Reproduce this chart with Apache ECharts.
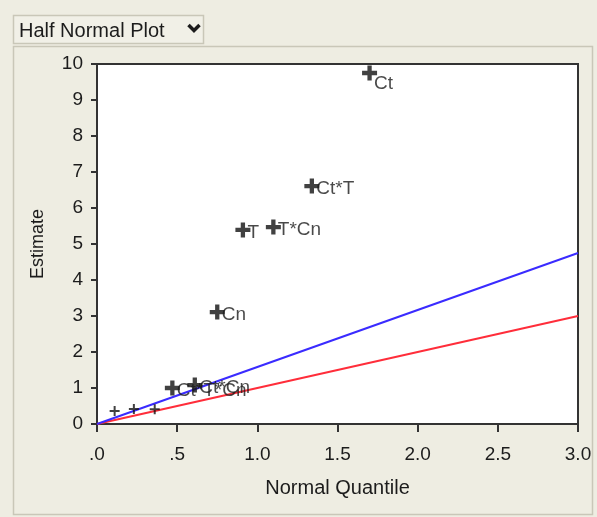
<!DOCTYPE html>
<html>
<head>
<meta charset="utf-8">
<script src="https://cdn.jsdelivr.net/npm/echarts@6/dist/echarts.min.js"></script>
<style>
  html, body { margin: 0; padding: 0; background: #eeede2; }
  #chart { width: 597px; height: 517px; }
</style>
</head>
<body>
<div id="chart"></div>
<script>
// Labelled effects: name, normal quantile, estimate
const effectNames     = ['Ct', 'Ct*T', 'T*Cn', 'T', 'Cn', 'Ct*T*Cn', 'Ct*Cn'];
const effectQuantiles = [1.70, 1.34, 1.10, 0.91, 0.75, 0.47, 0.61];
const effectEstimates = [9.75, 6.61, 5.47, 5.39, 3.11, 1.00, 1.08];

// Small unlabelled effects
const minorQuantiles = [0.11, 0.23, 0.36];
const minorEstimates = [0.36, 0.42, 0.41];

// Reference lines through the origin: end value at quantile 3.0
const lineEndQuantile = 3.0;
const blueLineEnd = 4.75;
const redLineEnd  = 3.0;

// Tick labels
const xTickLabels = ['.0', '.5', '1.0', '1.5', '2.0', '2.5', '3.0'];
const yTickLabels = ['0', '1', '2', '3', '4', '5', '6', '7', '8', '9', '10'];

const FONT = '"Liberation Sans", Arial, sans-serif';
const INK = '#1c1c1c';
const PLUS = 'path://M-2,-7 H2 V-2 H7 V2 H2 V7 H-2 V2 H-7 V-2 H-2 Z';
const PLUS_THIN = 'path://M-1,-5 H1 V-1 H5 V1 H1 V5 H-1 V1 H-5 V-1 H-1 Z';

const labelled = effectNames.map((n, i) => {
  const item = { value: [effectQuantiles[i], effectEstimates[i]], name: n };
  // the top label drops below the frame edge
  if (i === 0) item.label = { offset: [0, 11] };
  return item;
});
const minor = minorQuantiles.map((q, i) => [q, minorEstimates[i]]);

const chart = echarts.init(document.getElementById('chart'), null, { renderer: 'canvas' });
chart.setOption({
  backgroundColor: '#eeede2',
  animation: false,
  textStyle: { fontFamily: FONT },
  graphic: [
    // Outer panel outline
    { type: 'rect', shape: { x: 13.5, y: 46.5, width: 579, height: 468 }, style: { fill: 'none', stroke: '#c9c7b8', lineWidth: 1.5 }, z: -1 },
    // Drop-down button
    { type: 'rect', shape: { x: 13.5, y: 15.5, width: 190, height: 28 }, style: { fill: '#f1f0e7', stroke: '#c9c7b8', lineWidth: 1.5 } },
    { type: 'text', x: 19, y: 31, style: { text: 'Half Normal Plot', font: '20px ' + FONT, fill: INK, verticalAlign: 'middle' } },
    { type: 'polyline', shape: { points: [[188.5, 25], [194, 30.5], [199.5, 25]] }, style: { stroke: INK, lineWidth: 3.5, fill: 'none' } }
  ],
  grid: {
    left: 97, right: 19, top: 64, bottom: 93,
    show: true, backgroundColor: '#ffffff', borderColor: '#333333', borderWidth: 2
  },
  xAxis: {
    type: 'value', min: 0, max: 3, interval: 0.5,
    name: 'Normal Quantile', nameLocation: 'middle', nameGap: 54,
    nameTextStyle: { fontSize: 20, color: INK, fontFamily: FONT },
    axisLine: { lineStyle: { color: '#333333', width: 2 } },
    axisTick: { show: true, length: 8, lineStyle: { color: '#333333', width: 2 } },
    axisLabel: {
      fontSize: 19, color: INK, margin: 21, fontFamily: FONT,
      formatter: v => xTickLabels[Math.round(v / 0.5)]
    },
    splitLine: { show: false }
  },
  yAxis: {
    type: 'value', min: 0, max: 10, interval: 1,
    name: 'Estimate', nameLocation: 'middle', nameGap: 50, nameRotate: 90,
    nameTextStyle: { fontSize: 18, color: INK, fontFamily: FONT },
    axisLine: { lineStyle: { color: '#333333', width: 2 } },
    axisTick: { show: true, length: 6, lineStyle: { color: '#333333', width: 2 } },
    axisLabel: {
      fontSize: 19, color: INK, margin: 14, fontFamily: FONT,
      formatter: v => yTickLabels[Math.round(v)]
    },
    splitLine: { show: false }
  },
  series: [
    {
      type: 'line', data: [[0, 0], [lineEndQuantile, redLineEnd]], showSymbol: false,
      lineStyle: { color: '#ff2d3a', width: 2 }, silent: true, z: 2
    },
    {
      type: 'line', data: [[0, 0], [lineEndQuantile, blueLineEnd]], showSymbol: false,
      lineStyle: { color: '#3a2bff', width: 2 }, silent: true, z: 2
    },
    {
      type: 'scatter', data: minor, symbol: PLUS_THIN, symbolSize: 10,
      itemStyle: { color: '#111111' }, z: 3
    },
    {
      type: 'scatter', data: labelled, symbol: PLUS, symbolSize: 15,
      itemStyle: { color: '#111111' }, z: 4,
      label: {
        show: true, position: 'right', distance: -3, offset: [0, 3],
        formatter: p => p.name, fontSize: 19, color: INK, fontFamily: FONT
      }
    }
  ]
});
</script>
</body>
</html>
